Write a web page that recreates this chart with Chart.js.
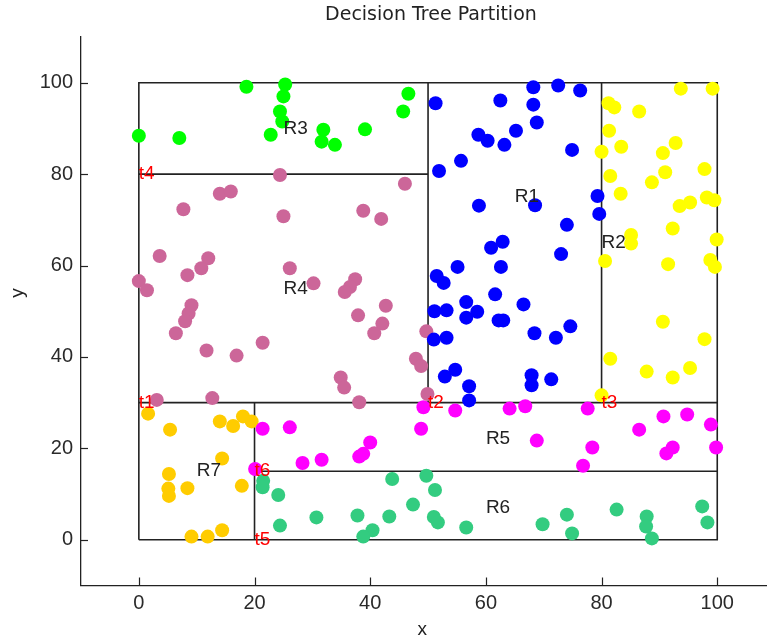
<!DOCTYPE html>
<html>
<head>
<meta charset="utf-8">
<title>Decision Tree Partition</title>
<script src="https://cdn.jsdelivr.net/npm/chart.js@4.4.1/dist/chart.umd.min.js"></script>
<style>
  html, body { margin: 0; padding: 0; background: #ffffff; }
  canvas { display: block; }
</style>
</head>
<body>
<canvas id="chart" width="767" height="642"></canvas>
<script>
// ---- Tree split thresholds ----
const t1 = 30;   // y split (whole domain)
const t2 = 50;   // x split above t1
const t3 = 80;   // x split above t1, right part
const t4 = 80;   // y split, left upper part
const t5 = 20;   // x split below t1
const t6 = 15;   // y split, right lower part
const domainMin = 0;
const domainMax = 100;

// ---- Samples in each leaf region ----
const r1x = [51.3, 62.5, 68.2, 72.5, 76.3, 68.2, 68.8, 65.2, 58.7, 60.3, 63.2, 74.9, 55.7, 51.9, 58.8, 68.5, 79.3, 79.6, 74.0, 62.9, 60.9, 73.0, 55.1, 62.6, 51.5, 52.7, 61.6, 66.5, 56.6, 51.1, 53.2, 58.5, 56.6, 62.2, 63.0, 68.4, 72.1, 74.6, 51.0, 53.2, 52.9, 54.7, 57.1, 57.1, 67.9, 67.9, 71.3];
const r1y = [95.5, 96.1, 99.0, 99.4, 98.3, 95.2, 91.3, 89.5, 88.6, 87.3, 86.4, 85.3, 82.9, 80.7, 73.1, 73.2, 75.2, 71.3, 68.9, 65.2, 63.9, 62.5, 59.7, 59.7, 57.7, 56.2, 53.7, 51.5, 52.0, 50.0, 50.2, 49.9, 48.6, 48.0, 48.0, 45.2, 44.2, 46.7, 43.8, 44.2, 35.7, 37.2, 33.6, 30.5, 36.0, 33.8, 35.1];

const r2x = [93.7, 99.2, 81.2, 82.2, 86.5, 81.3, 83.4, 80.0, 92.8, 90.6, 81.5, 91.0, 88.7, 97.8, 83.3, 93.5, 95.3, 98.2, 99.5, 92.3, 99.9, 85.1, 85.1, 80.6, 91.5, 98.8, 99.6, 90.6, 97.8, 81.5, 87.8, 92.3, 95.3, 80.0];
const r2y = [98.7, 98.7, 95.5, 94.6, 93.7, 89.5, 86.0, 84.9, 86.8, 84.6, 79.6, 80.4, 78.2, 81.1, 75.7, 73.0, 73.8, 74.9, 74.3, 68.1, 65.7, 66.7, 64.8, 61.0, 60.3, 61.2, 59.7, 47.7, 43.9, 39.6, 36.8, 35.5, 37.6, 31.6];

const r3x = [0.0, 7.0, 18.6, 25.3, 25.0, 24.4, 24.8, 22.8, 31.9, 31.6, 33.9, 39.1, 46.6, 45.7];
const r3y = [88.4, 87.9, 99.1, 99.6, 97.0, 93.7, 91.5, 88.6, 89.7, 87.1, 86.4, 89.8, 97.6, 93.7];

const r4x = [24.4, 46.0, 7.7, 14.0, 15.9, 25.0, 38.8, 41.9, 3.6, 12.0, 10.8, 8.4, 26.1, 30.2, 0.0, 1.4, 37.4, 36.5, 35.6, 9.1, 8.6, 8.0, 6.4, 42.7, 37.9, 42.1, 40.7, 49.7, 21.4, 11.7, 16.9, 47.9, 48.8, 34.9, 35.5, 49.9, 3.1, 12.7, 38.1];
const r4y = [79.8, 77.9, 72.3, 75.7, 76.2, 70.8, 72.0, 70.2, 62.1, 61.6, 59.4, 57.9, 59.4, 56.1, 56.6, 54.6, 57.0, 55.3, 54.2, 51.3, 49.5, 47.8, 45.2, 51.2, 49.1, 47.3, 45.2, 45.6, 43.1, 41.4, 40.3, 39.6, 38.0, 35.5, 33.3, 31.9, 30.6, 31.0, 30.1];

const r5x = [21.4, 26.1, 48.8, 49.2, 40.0, 38.1, 38.8, 31.6, 28.3, 20.1, 54.7, 64.1, 66.8, 77.6, 68.8, 78.4, 76.8, 86.5, 90.7, 94.8, 98.9, 99.8, 92.3, 91.2];
const r5y = [24.3, 24.6, 24.3, 29.0, 21.3, 18.2, 18.8, 17.5, 16.8, 15.5, 28.3, 28.7, 29.2, 28.7, 21.7, 20.2, 16.2, 24.1, 27.0, 27.4, 25.2, 20.2, 20.2, 18.9];

const r6x = [21.5, 21.4, 24.1, 24.4, 30.7, 37.8, 40.4, 38.8, 43.3, 43.8, 47.4, 49.7, 51.2, 51.0, 51.7, 56.6, 69.8, 74.0, 74.9, 82.6, 87.8, 87.7, 88.7, 97.4, 98.3];
const r6y = [12.9, 11.5, 9.8, 3.1, 4.9, 5.3, 2.1, 0.7, 5.1, 13.3, 7.7, 14.0, 10.9, 5.0, 3.8, 2.7, 3.4, 5.5, 1.4, 6.6, 5.1, 2.9, 0.3, 7.3, 3.8];

const r7x = [1.6, 5.4, 14.0, 16.3, 18.0, 19.5, 14.4, 5.2, 5.1, 5.2, 8.4, 17.8, 9.1, 11.9, 14.4];
const r7y = [27.6, 24.1, 25.9, 24.9, 27.0, 25.9, 17.8, 14.4, 11.2, 9.6, 11.3, 11.8, 0.7, 0.7, 2.1];

// ---- Region names, their label anchors and colours ----
const regionNames = ['R1', 'R2', 'R3', 'R4', 'R5', 'R6', 'R7'];
const regionLabelX = [65, 80, 25, 25, 60, 60, 10];
const regionLabelY = [75, 65, 90, 55, 22, 7, 15];
const regionColors = ['#0000FF', '#FFFF00', '#00FF00', '#CC6699', '#FF00FF', '#33CC80', '#FFCC00'];
const regionXs = [r1x, r2x, r3x, r4x, r5x, r6x, r7x];
const regionYs = [r1y, r2y, r3y, r4y, r5y, r6y, r7y];

// ---- Split labels and where they sit ----
const splitNames = ['t1', 't2', 't3', 't4', 't5', 't6'];
const splitLabelX = [domainMin, t2, t3, domainMin, t5, t5];
const splitLabelY = [t1, t1, t1, t4, domainMin, t6];

// ---- Axis ticks ----
const xTicks = [0, 20, 40, 60, 80, 100];
const yTicks = [0, 20, 40, 60, 80, 100];

// Partition boundaries as line segments built from the thresholds
const segments = [
  [[domainMin, domainMin], [domainMax, domainMin], [domainMax, domainMax], [domainMin, domainMax], [domainMin, domainMin]],
  [[domainMin, t1], [domainMax, t1]],
  [[t2, t1], [t2, domainMax]],
  [[domainMin, t4], [t2, t4]],
  [[t3, t1], [t3, domainMax]],
  [[t5, domainMin], [t5, t1]],
  [[t5, t6], [domainMax, t6]]
];

const textFont = "'Liberation Sans', Arial, sans-serif";
const inkColor = '#222222';

const datasets = [];
regionNames.forEach((name, i) => {
  datasets.push({
    label: name,
    data: regionXs[i].map((vx, k) => ({ x: vx, y: regionYs[i][k] })),
    backgroundColor: regionColors[i],
    borderWidth: 0,
    pointRadius: 7,
    pointHoverRadius: 7,
    showLine: false,
    order: 1
  });
});
segments.forEach((seg, i) => {
  datasets.push({
    label: 'split' + i,
    data: seg.map(p => ({ x: p[0], y: p[1] })),
    showLine: true,
    borderColor: inkColor,
    borderWidth: 1.6,
    pointRadius: 0,
    fill: false,
    tension: 0,
    order: 10
  });
});

// Inward tick marks, annotations, title and axis names
const decorations = {
  id: 'decorations',
  afterDraw(chart) {
    const { ctx, chartArea, scales: { x, y } } = chart;
    ctx.save();

    // tick marks pointing into the axes
    ctx.strokeStyle = inkColor;
    ctx.lineWidth = 1.2;
    xTicks.forEach(v => {
      const px = Math.round(x.getPixelForValue(v)) + 0.5;
      ctx.beginPath();
      ctx.moveTo(px, chartArea.bottom);
      ctx.lineTo(px, chartArea.bottom - 8);
      ctx.stroke();
    });
    yTicks.forEach(v => {
      const py = Math.round(y.getPixelForValue(v)) + 0.5;
      ctx.beginPath();
      ctx.moveTo(chartArea.left, py);
      ctx.lineTo(chartArea.left + 7, py);
      ctx.stroke();
    });

    // region names
    ctx.font = '19px ' + textFont;
    ctx.textAlign = 'left';
    ctx.textBaseline = 'middle';
    ctx.fillStyle = inkColor;
    regionNames.forEach((n, i) => {
      ctx.fillText(n, x.getPixelForValue(regionLabelX[i]), y.getPixelForValue(regionLabelY[i]));
    });

    // split names
    ctx.fillStyle = '#FF0000';
    splitNames.forEach((n, i) => {
      ctx.fillText(n, x.getPixelForValue(splitLabelX[i]), y.getPixelForValue(splitLabelY[i]));
    });

    // title
    ctx.fillStyle = inkColor;
    ctx.font = "19px 'DejaVu Sans', sans-serif";
    ctx.textAlign = 'center';
    ctx.textBaseline = 'middle';
    ctx.fillText('Decision Tree Partition', x.getPixelForValue(50.5), 15);

    // axis names
    ctx.font = '19px ' + textFont;
    ctx.fillText('x', x.getPixelForValue(49), 630);
    ctx.translate(18, y.getPixelForValue(54));
    ctx.rotate(-Math.PI / 2);
    ctx.fillText('y', 0, 0);

    ctx.restore();
  }
};

new Chart(document.getElementById('chart'), {
  type: 'scatter',
  data: { datasets },
  options: {
    responsive: false,
    devicePixelRatio: 1,
    animation: false,
    events: [],
    layout: { autoPadding: false, padding: { top: 37, left: 0, right: 0, bottom: 0 } },
    plugins: {
      legend: { display: false },
      tooltip: { enabled: false },
      title: { display: false }
    },
    scales: {
      x: {
        type: 'linear',
        min: -10,
        max: 108.6,
        afterBuildTicks: s => { s.ticks = xTicks.map(v => ({ value: v })); },
        afterFit: s => { s.height = 56.5; s.paddingLeft = 0; s.paddingRight = 0; },
        grid: { display: false, drawTicks: false, tickLength: 0 },
        border: { display: true, color: inkColor, width: 1.3 },
        ticks: {
          color: '#2a2a2a',
          padding: 6,
          maxRotation: 0,
          font: { family: textFont, size: 20 }
        }
      },
      y: {
        type: 'linear',
        min: -10,
        max: 110,
        afterBuildTicks: s => { s.ticks = yTicks.map(v => ({ value: v })); },
        afterFit: s => { s.width = 81; s.paddingTop = 0; s.paddingBottom = 0; },
        grid: { display: false, drawTicks: false, tickLength: 0 },
        border: { display: true, color: inkColor, width: 1.3 },
        ticks: {
          color: '#2a2a2a',
          padding: 8,
          font: { family: textFont, size: 20 }
        }
      }
    }
  },
  plugins: [decorations]
});
</script>
</body>
</html>
